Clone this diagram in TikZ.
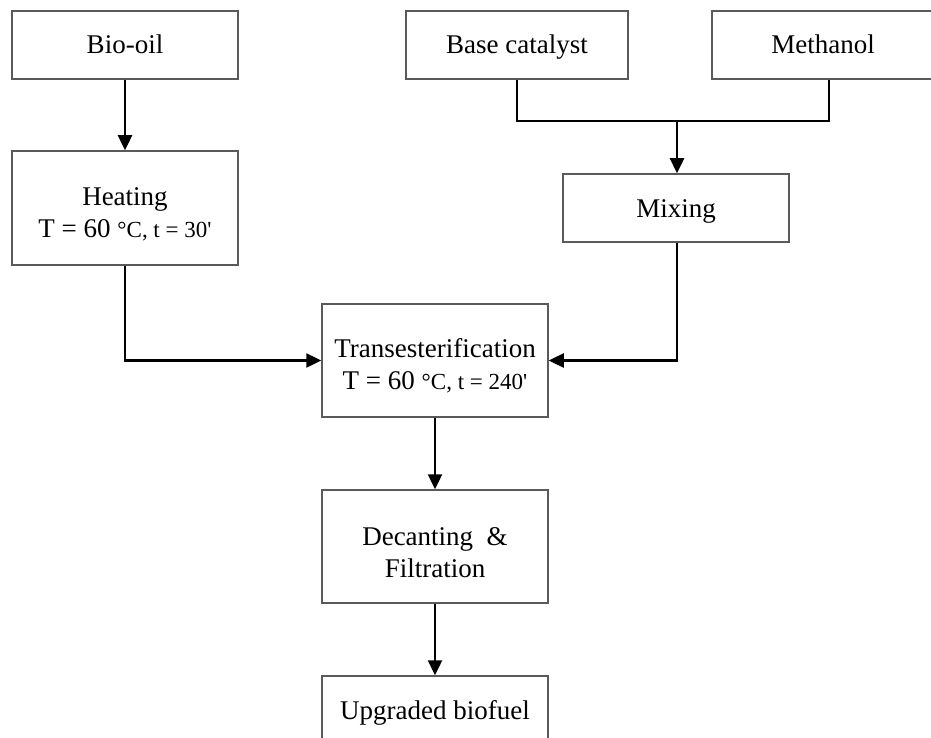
\documentclass[tikz,border=0pt]{standalone}
\usepackage{fontspec}
\setmainfont{Liberation Serif}
\usetikzlibrary{arrows.meta}
\definecolor{boxgray}{HTML}{5A5A5A}
\tikzset{
  box/.style={draw=boxgray, line width=1.5pt, fill=white, inner sep=0pt, align=center,
    font=\fontsize{27}{32}\selectfont},
  onebox/.style={box, text height=23pt, text depth=5pt},
  conn/.style={draw=black, line width=2.4pt},
  arr/.style={conn, -{Triangle[length=15pt,width=14pt]}}
}
\newcommand{\smallpart}[1]{{\fontsize{23}{32}\selectfont #1}}
\newcommand{\topstrut}{\rule{0pt}{30pt}}
\begin{document}
\begin{tikzpicture}[x=1pt,y=-1pt]
\useasboundingbox (0,0) rectangle (931,738);
\clip (0,0) rectangle (931,738);
\node[onebox, minimum width=226pt, minimum height=68pt] (bio) at (125,45) {Bio-oil};
\node[box, minimum width=226pt, minimum height=114pt] (heat) at (125,208) {\topstrut Heating\\T = 60 \smallpart{°C, t = 30\textquotesingle}};
\node[onebox, minimum width=222pt, minimum height=68pt] (base) at (517,45) {Base catalyst};
\node[onebox, minimum width=222pt, minimum height=68pt] (meth) at (823,45) {Methanol};
\node[onebox, minimum width=226pt, minimum height=68pt] (mix) at (676,208) {Mixing};
\node[box, minimum width=226pt, minimum height=113pt] (trans) at (435,360.5) {\topstrut Transesterification\\T = 60 \smallpart{°C, t = 240\textquotesingle}};
\node[box, minimum width=226pt, minimum height=113pt] (dec) at (435,546.5) {\topstrut Decanting~ \&\\Filtration};
\node[onebox, minimum width=226pt, minimum height=68pt] (up) at (435,710) {Upgraded biofuel};
\coordinate (j) at (677,121);
\coordinate (mj) at ([xshift=6pt]meth.south);
\draw[arr] (bio.south) -- (heat.north);
\draw[conn] (base.south) |- (j) -| (mj);
\draw[arr] (j) -- (j |- mix.north);
\draw[arr] (heat.south) |- (trans.west);
\draw[arr] ([xshift=1pt]mix.south) |- (trans.east);
\draw[arr] (trans.south) -- (dec.north);
\draw[arr] (dec.south) -- (up.north);
\end{tikzpicture}
\end{document}
